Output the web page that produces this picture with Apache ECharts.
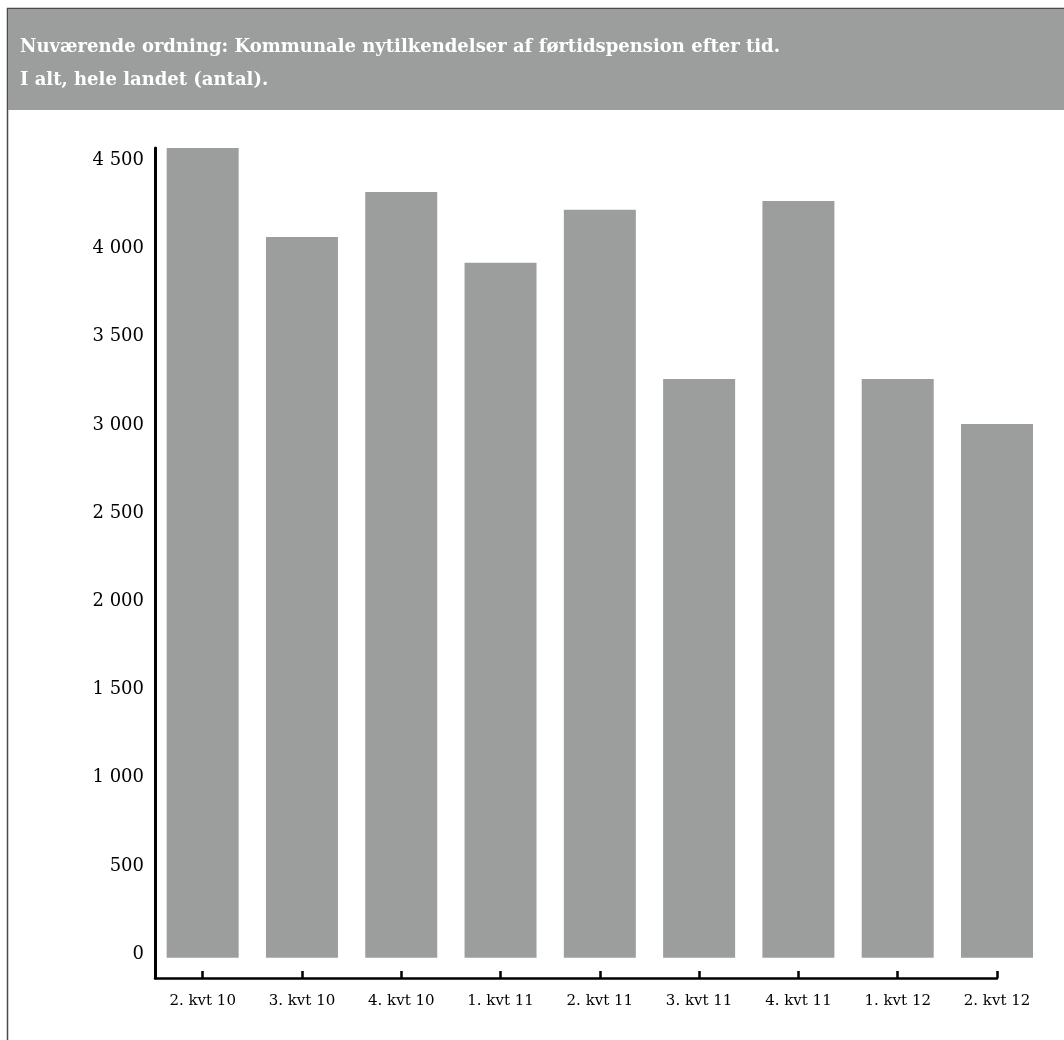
<!DOCTYPE html>
<html>
<head>
<meta charset="utf-8">
<title>Førtidspension – nytilkendelser</title>
<script src="https://cdn.jsdelivr.net/npm/echarts@6/dist/echarts.min.js"></script>
<style>
  html, body { margin: 0; padding: 0; background: #ffffff; }
  #chart { width: 1064px; height: 1040px; }
</style>
</head>
<body>
<div id="chart"></div>
<script>
// Quarters shown on the category axis
const categories = ['2. kvt 10', '3. kvt 10', '4. kvt 10', '1. kvt 11', '2. kvt 11',
                    '3. kvt 11', '4. kvt 11', '1. kvt 12', '2. kvt 12'];
// Municipal new awards of early retirement pension (count)
const awards = [4590, 4085, 4340, 3940, 4240, 3280, 4290, 3280, 3025];
// Labelled values on the vertical axis
const yTicks = [0, 500, 1000, 1500, 2000, 2500, 3000, 3500, 4000, 4500];
// Positions of the quarters along the horizontal axis
const xTicks = categories.map((_, i) => i);

const titleText = 'Nuværende ordning: Kommunale nytilkendelser af førtidspension efter tid.\nI alt, hele landet (antal).';

const serif = '"DejaVu Serif", "Liberation Serif", serif';
const barColor = '#9c9e9d';

const chart = echarts.init(document.getElementById('chart'), null, { renderer: 'canvas' });

chart.setOption({
  backgroundColor: '#ffffff',
  animation: false,
  graphic: [
    // outer frame
    {
      type: 'rect', z: 0, silent: true,
      shape: { x: 7.5, y: 8.5, width: 1100, height: 1100 },
      style: { fill: 'none', stroke: '#4a4a4a', lineWidth: 1.5 }
    },
    // heading band
    {
      type: 'rect', z: 1, silent: true,
      shape: { x: 8, y: 9, width: 1060, height: 101 },
      style: { fill: barColor }
    }
  ],
  title: {
    text: titleText,
    left: 20,
    top: 31,
    padding: 0,
    textStyle: {
      color: '#ffffff',
      fontFamily: serif,
      fontWeight: 'bold',
      fontSize: 18,
      lineHeight: 33
    },
    z: 5
  },
  grid: {
    left: 155,
    right: 67,
    top: 148,
    bottom: 62,
    containLabel: false
  },
  xAxis: {
    type: 'value',
    min: -0.48,
    max: 8,
    splitLine: { show: false },
    axisLine: { show: true, onZero: false, lineStyle: { color: '#000000', width: 2.5 } },
    axisTick: {
      show: true, inside: true, length: 7,
      customValues: xTicks,
      lineStyle: { color: '#000000', width: 2.5 }
    },
    axisLabel: {
      customValues: xTicks,
      formatter: v => categories[Math.round(v)] || '',
      color: '#000000',
      fontFamily: serif,
      fontSize: 15,
      margin: 16
    }
  },
  yAxis: {
    type: 'value',
    min: -115,
    max: 'dataMax',
    splitLine: { show: false },
    axisLine: { show: true, onZero: false, lineStyle: { color: '#000000', width: 3 } },
    axisTick: { show: false },
    axisLabel: {
      customValues: yTicks,
      formatter: v => String(v).replace(/\B(?=(\d{3})+(?!\d))/g, ' '),
      color: '#000000',
      fontFamily: serif,
      fontSize: 18,
      margin: 11,
      verticalAlign: 'bottom',
      lineHeight: 7
    }
  },
  series: [{
    type: 'bar',
    data: awards.map((v, i) => [i, v]),
    barWidth: 72,
    clip: false,
    itemStyle: { color: barColor },
    z: 1
  }]
});
</script>
</body>
</html>
